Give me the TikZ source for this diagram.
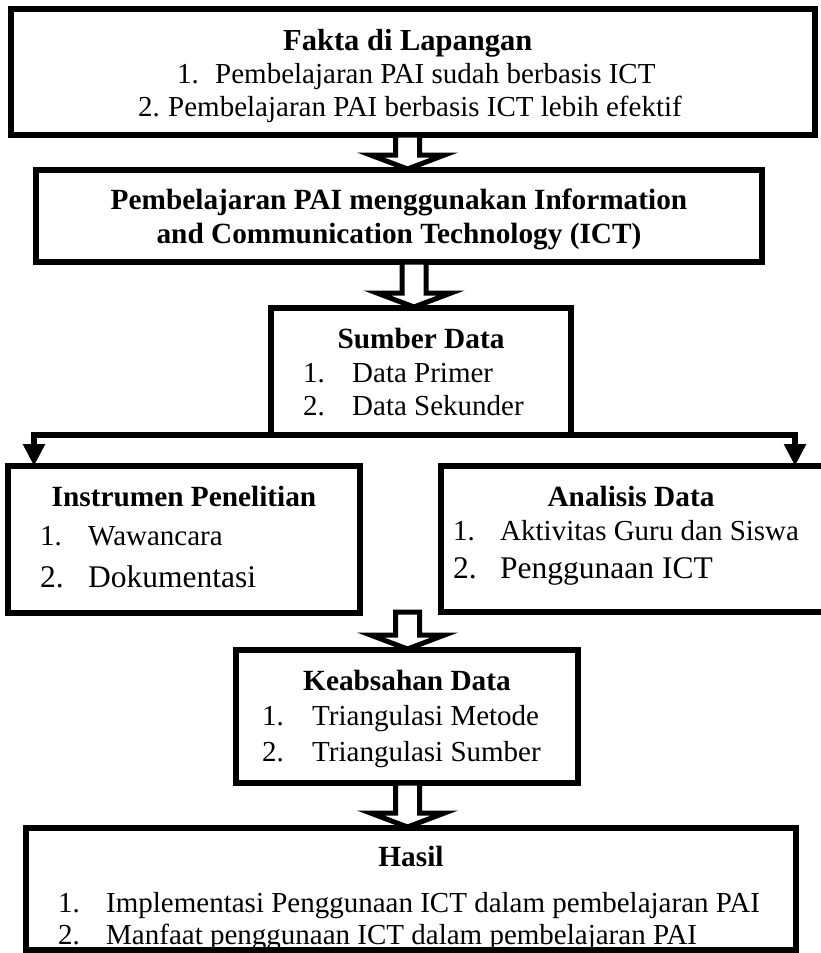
\documentclass[tikz,border=0pt]{standalone}
\usepackage{fontspec}
\setmainfont{Liberation Serif}
\usetikzlibrary{calc,arrows.meta}
\newcommand\hollowarrow[3]{%
  \draw[harrow] ($(#2.south -| #1)+(-12,0)$) -- ($(#3.north -| #1)+(-12,-15)$)
    -- ($(#3.north -| #1)+(-37,-15)$) -- ($(#3.north -| #1)+(0,-1)$)
    -- ($(#3.north -| #1)+(37,-15)$) -- ($(#3.north -| #1)+(12,-15)$)
    -- ($(#2.south -| #1)+(12,0)$) -- cycle;}
\begin{document}
\begin{tikzpicture}[x=1pt,y=-1pt,
  box/.style={draw=black,line width=5.5pt,fill=white,rectangle,inner sep=0pt,outer sep=0pt,anchor=north west},
  harrow/.style={draw=black,line width=5pt,fill=white,line join=miter,miter limit=20},
  conn/.style={draw=black,line width=5.5pt,line join=miter},
  tb/.style={font=\fontsize{29.3}{35}\selectfont\bfseries,inner sep=0pt,anchor=base},
  tr/.style={font=\fontsize{29}{35}\selectfont,inner sep=0pt,anchor=base west},
  tlg/.style={font=\fontsize{31.5}{37}\selectfont,inner sep=0pt,anchor=base west}]
\useasboundingbox (0,0) rectangle (821,953);
\fill[white] (0,0) rectangle (821,953);
% boxes
\node[box,minimum width=804pt,minimum height=126pt] (f1) at (11,9) {};
\node[box,minimum width=726pt,minimum height=92pt] (f2) at (36,170) {};
\node[box,minimum width=300pt,minimum height=127pt] (f3) at (271,308) {};
\node[box,minimum width=352pt,minimum height=147pt] (f4) at (8,466) {};
\node[box,minimum width=400pt,minimum height=146pt] (f5) at (441,466) {};
\node[box,minimum width=342pt,minimum height=133pt] (f6) at (236,650) {};
\node[box,minimum width=770pt,minimum height=122pt] (f7) at (26,828) {};
% hollow arrows
\coordinate (a1) at (407.5,0);
\coordinate (a2) at (414,0);
\coordinate (a3) at (407.5,0);
\coordinate (a4) at (407.5,0);
\hollowarrow{a1}{f1}{f2}
\hollowarrow{a2}{f2}{f3}
\coordinate (f45) at (400,612);
\draw[harrow] ($(f45 -| a3)+(-12,0)$) -- ($(f6.north -| a3)+(-12,-15)$)
    -- ($(f6.north -| a3)+(-37,-15)$) -- ($(f6.north -| a3)+(0,-1)$)
    -- ($(f6.north -| a3)+(37,-15)$) -- ($(f6.north -| a3)+(12,-15)$)
    -- ($(f45 -| a3)+(12,0)$) -- cycle;
\hollowarrow{a4}{f6}{f7}
% branch
\coordinate (bl) at (34,435);
\coordinate (br) at (795,435);
\draw[conn,{Triangle[width=21pt,length=22pt]}-{Triangle[width=21pt,length=22pt]}] (f4.north -| bl) -- (bl) -- (br) -- (f5.north -| br);
% texts box 1
\node[font=\fontsize{30.5}{37}\selectfont\bfseries,inner sep=0pt,anchor=base west] (t1) at (283,50) {Fakta di Lapangan};
\node[tr] (t1n1) at (177,83) {1.};
\node[tr] (t1i1) at (215,83) {Pembelajaran PAI sudah berbasis ICT};
\node[tr] (t1n2) at (138,116) {2.};
\node[tr] (t1i2) at (168,116) {Pembelajaran PAI berbasis ICT lebih efektif};
% box 2
\node[tb] (t2a) at (399,209) {Pembelajaran PAI menggunakan Information};
\node[tb] (t2b) at (399,243) {and Communication Technology (ICT)};
% box 3
\node[tb] (t3) at (421,348) {Sumber Data};
\node[tr] (t3n1) at (303,382) {1.};
\node[tr] (t3i1) at (352,382) {Data Primer};
\node[tr] (t3n2) at (303,415) {2.};
\node[tr] (t3i2) at (352,415) {Data Sekunder};
% box 4
\node[tb] (t4) at (184,506) {Instrumen Penelitian};
\node[tr] (t4n1) at (40,545) {1.};
\node[tr] (t4i1) at (88,545) {Wawancara};
\node[tlg] (t4n2) at (40,587) {2.};
\node[tlg] (t4i2) at (88,587) {Dokumentasi};
% box 5
\node[tb] (t5) at (631,506) {Analisis Data};
\node[tr] (t5n1) at (453,540) {1.};
\node[tr] (t5i1) at (500,540) {Aktivitas Guru dan Siswa};
\node[tlg] (t5n2) at (453,578) {2.};
\node[tlg] (t5i2) at (500,578) {Penggunaan ICT};
% box 6
\node[tb] (t6) at (407,690) {Keabsahan Data};
\node[tr] (t6n1) at (262,725) {1.};
\node[tr] (t6i1) at (312,725) {Triangulasi Metode};
\node[tr] (t6n2) at (262,761) {2.};
\node[tr] (t6i2) at (312,761) {Triangulasi Sumber};
% box 7
\node[tb] (t7) at (411,866) {Hasil};
\node[tr] (t7n1) at (58,912) {1.};
\node[tr] (t7i1) at (106,912) {Implementasi Penggunaan ICT dalam pembelajaran PAI};
\node[tr] (t7n2) at (58,944) {2.};
\node[tr] (t7i2) at (106,944) {Manfaat penggunaan ICT dalam pembelajaran PAI};
\end{tikzpicture}
\end{document}
